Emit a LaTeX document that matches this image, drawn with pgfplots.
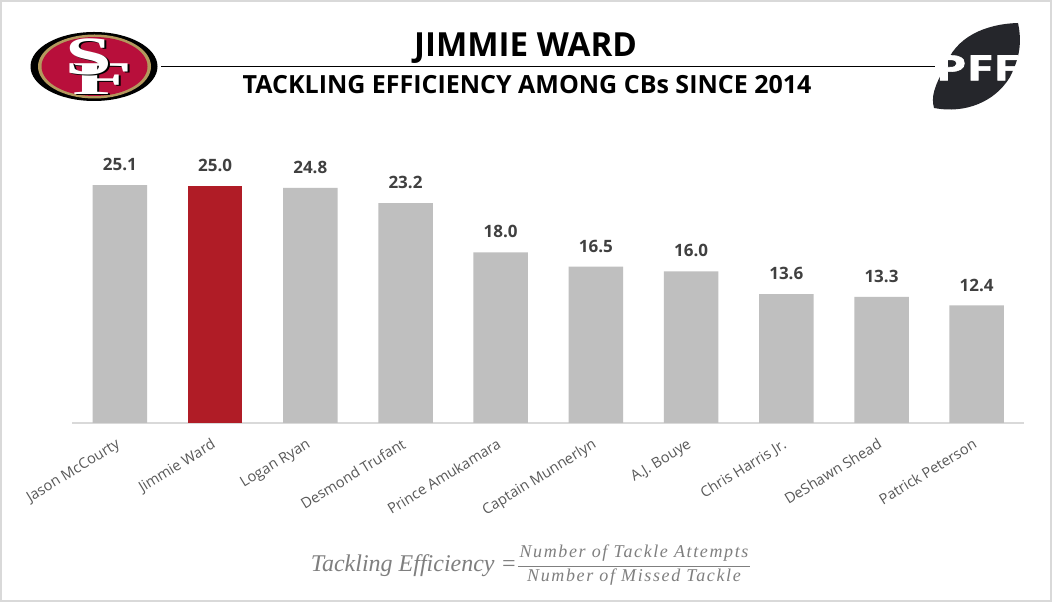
\documentclass[border=0pt]{standalone}
\usepackage{fontspec}
\setmainfont{Open Sans}
\newfontfamily\mathish{Liberation Serif}
\newfontfamily\sfserif{Liberation Serif}
\usepackage{pgfplots}
\pgfplotsset{compat=1.18}
\definecolor{barg}{HTML}{BFBFBF}
\definecolor{barr}{HTML}{B01C26}
\definecolor{lab}{HTML}{595959}
\definecolor{val}{HTML}{404040}
\definecolor{eqn}{HTML}{7F7F7F}
\definecolor{niners}{HTML}{B80F3B}
\definecolor{gold}{HTML}{B3995D}
\definecolor{pffd}{HTML}{25262B}
\begin{document}
\begin{tikzpicture}[x=1pt,y=1pt]
\useasboundingbox (0,0) rectangle (1052,602);
\fill[white] (0,0) rectangle (1052,602);
\draw[color=black!15,line width=2pt] (1,1) rectangle (1051,601);
\begin{axis}[
  at={(72.3pt,179pt)},anchor=south west,
  scale only axis,width=952pt,height=284.4pt,
  xmin=-0.5,xmax=9.5,ymin=0,ymax=30,
  axis y line=none,
  axis x line*=bottom,
  axis line style={draw=black!15,line width=1.5pt,-},
  xtick={0,1,2,3,4,5,6,7,8,9},
  xticklabels={Jason McCourty,Jimmie Ward,Logan Ryan,Desmond Trufant,Prince Amukamara,Captain Munnerlyn,A.J. Bouye,Chris Harris Jr.,DeShawn Shead,Patrick Peterson},
  major tick length=0pt,
  xticklabel style={rotate=31.5,anchor=north east,font=\fontsize{14.6}{16}\selectfont,text=lab,inner sep=0pt,yshift=-10pt,xshift=-11.5pt},
  ybar,bar width=54.5pt,
  clip=false,
  nodes near coords={\pgfmathprintnumber[fixed,fixed zerofill,precision=1,assume math mode=true]{\pgfplotspointmeta}},
  nodes near coords style={font=\fontsize{17}{19}\selectfont\bfseries,text=val,yshift=14pt,inner sep=0pt,anchor=south},
]
\addplot[bar shift=0pt,fill=barg,draw=none] coordinates {(0,25.1) (2,24.8) (3,23.2) (4,18.0) (5,16.5) (6,16.0) (7,13.6) (8,13.3) (9,12.4)};
\addplot[bar shift=0pt,fill=barr,draw=none] coordinates {(1,25.0)};
\end{axis}
% title
\draw[black,line width=1pt] (161,535) -- (935,535);
\node[fill=white,inner ysep=0pt,inner xsep=4pt,font=\fontsize{33.2}{35}\selectfont\bfseries,text=black] at (525.5,553.5) {JIMMIE WARD};
\node[font=\fontsize{25}{27}\selectfont\bfseries,text=black] at (527,517) {TACKLING EFFICIENCY AMONG CBs SINCE 2014};
% 49ers logo
\fill[black] (94,535.5) ellipse [x radius=63.5,y radius=34.5];
\fill[gold] (94.5,535.5) ellipse [x radius=56.5,y radius=32];
\fill[niners] (94.5,535.5) ellipse [x radius=53,y radius=29.5];
\node[font=\sfserif\fontsize{47}{47}\selectfont\bfseries,text=black,inner sep=0pt,xscale=2.1] at (104.5,522) {F};
\node[font=\sfserif\fontsize{47}{47}\selectfont\bfseries,text=white,inner sep=0pt,xscale=2.1] at (103,523) {F};
\node[font=\sfserif\fontsize{54}{54}\selectfont\bfseries,text=black,inner sep=0pt,xscale=1.55] at (91,544) {S};
\node[font=\sfserif\fontsize{54}{54}\selectfont\bfseries,text=white,inner sep=0pt,xscale=1.55] at (89,545) {S};
% PFF logo
\fill[pffd] (1018,579) .. controls (985,578) and (955,565) .. (945,535) .. controls (934,515) and (931,505) .. (934,494)
  .. controls (965,488) and (995,500) .. (1010,525) .. controls (1020,545) and (1022,560) .. (1018,579) -- cycle;
\node[font=\fontsize{35}{35}\selectfont\bfseries,text=white,inner sep=0pt,xscale=1.4] at (978,534) {\addfontfeature{FakeBold=1.5}PFF};
% formula
\node[font=\mathish\itshape\fontsize{24}{26}\selectfont,text=eqn,anchor=east,inner sep=0pt] at (517,36.5) {Tackling Efficiency =};
\draw[eqn,line width=1.4pt] (518,35.5) -- (750,35.5);
\node[font=\mathish\itshape\fontsize{18}{20}\selectfont,text=eqn,inner sep=0pt] at (634,49) {\addfontfeature{LetterSpace=9}Number of Tackle Attempts};
\node[font=\mathish\itshape\fontsize{18}{20}\selectfont,text=eqn,inner sep=0pt] at (634,25) {\addfontfeature{LetterSpace=9}Number of Missed Tackle};
\end{tikzpicture}
\end{document}
